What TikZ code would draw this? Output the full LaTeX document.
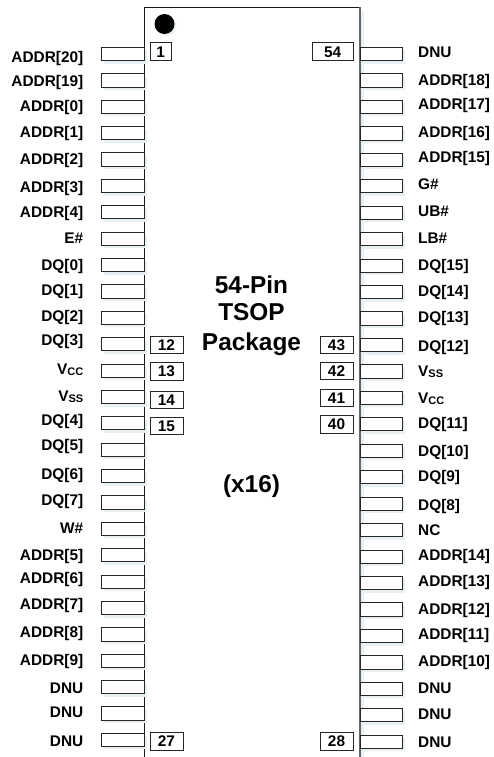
\documentclass[tikz,border=0pt]{standalone}
\usepackage{fontspec}
\setmainfont{Liberation Sans}
\definecolor{softshade}{HTML}{E9F0F4}
\newcommand{\subsc}[1]{\raisebox{-1.5pt}{\fontsize{11}{11}\selectfont #1}}
\tikzset{
  pinbox/.style={draw=black!85,line width=0.9pt,fill=white,minimum height=13.2pt,inner sep=0pt},
  leftpin/.style={pinbox,minimum width=43pt},
  rightpin/.style={pinbox,minimum width=42pt},
  pinshadow/.style={fill=softshade,draw=none,minimum height=13.2pt,inner sep=0pt},
  numbox/.style={draw=black!85,line width=0.9pt,fill=white,inner sep=0pt,minimum height=17.5pt,text height=10.7pt,text depth=0pt,font=\bfseries\fontsize{15.4}{15}\selectfont},
  narrownum/.style={numbox,minimum width=33pt},
  lab/.style={inner sep=0pt,text height=10.7pt,text depth=0pt,font=\bfseries\fontsize{15.4}{15}\selectfont},
  leftlab/.style={lab,anchor=east},
  rightlab/.style={lab,anchor=west},
  title/.style={inner sep=0pt,text height=17.2pt,text depth=0pt,font=\bfseries\fontsize{24.4}{24}\selectfont}
}
\begin{document}
\begin{tikzpicture}[x=1pt,y=-1pt]
\useasboundingbox (0,0) rectangle (494,757);
% package
\fill[softshade] (147,11) rectangle (364,757);
\fill[white] (144,7.5) rectangle (360,757);
\coordinate (pkgBL) at (144,757);
\coordinate (pkgTL) at (144,7.5);
\coordinate (pkgTR) at (360,7.5);
\coordinate (pkgBR) at (360,757);
\draw[black!90,line width=0.9pt] (pkgBL) -- (pkgTL) -- (pkgTR);
\draw[black!60,line width=1.2pt] (pkgTR) -- (pkgBR);
% index dot
\fill[softshade] (166.5,26) circle (10);
\node[circle,fill=black,minimum size=20pt,inner sep=0pt] (dot) at (164.5,24) {};
% left pins and labels
\foreach \i/\ly/\t in {
 1/57/{ADDR[20]},2/81/{ADDR[19]},3/106/{ADDR[0]},4/132/{ADDR[1]},5/159/{ADDR[2]},
 6/187/{ADDR[3]},7/212/{ADDR[4]},8/238/{E\#},9/265/{DQ[0]},10/290/{DQ[1]},
 11/316/{DQ[2]},12/340/{DQ[3]},13/369/{V\subsc{CC}},14/396/{V\subsc{SS}},15/420/{DQ[4]},
 16/445/{DQ[5]},17/474/{DQ[6]},18/500/{DQ[7]},19/528/{W\#},20/555/{ADDR[5]},
 21/578/{ADDR[6]},22/604/{ADDR[7]},23/632/{ADDR[8]},24/660/{ADDR[9]},25/688/{DNU},
 26/712/{DNU},27/741/{DNU}}{
  \pgfmathsetmacro{\py}{54+26.38*(\i-1)}
  \node[pinshadow,minimum width=43pt] at (125.5,\py+3) {};
  \node[leftpin] (L\i) at (122.5,\py) {};
  \node[leftlab] (LT\i) at (83.5,\ly) {\t};
}
% right pins and labels
\foreach \i/\ly/\t in {
 54/52/{DNU},53/80/{ADDR[18]},52/104/{ADDR[17]},51/132/{ADDR[16]},50/157/{ADDR[15]},
 49/184/{G\#},48/211/{UB\#},47/238/{LB\#},46/265/{DQ[15]},45/291/{DQ[14]},
 44/317/{DQ[13]},43/346/{DQ[12]},42/371/{V\subsc{SS}},41/398/{V\subsc{CC}},40/423/{DQ[11]},
 39/451/{DQ[10]},38/476/{DQ[9]},37/505/{DQ[8]},36/530/{NC},35/555/{ADDR[14]},
 34/581/{ADDR[13]},33/609/{ADDR[12]},32/634/{ADDR[11]},31/661/{ADDR[10]},30/688/{DNU},
 29/714/{DNU},28/742/{DNU}}{
  \pgfmathsetmacro{\py}{54+26.45*(54-\i)}
  \node[pinshadow,minimum width=42pt] at (384,\py+3) {};
  \node[rightpin] (R\i) at (381,\py) {};
  \node[rightlab] (RT\i) at (418,\ly) {\t};
}
% pin numbers
\node[numbox,minimum width=21.5pt] (n1) at (160.7,51.7) {1};
\node[numbox,minimum width=40.5pt] (n54) at (332.7,51.7) {54};
\node[narrownum] (n12) at (166.5,345) {12};
\node[narrownum] (n13) at (166.5,371.2) {13};
\node[narrownum] (n14) at (166.5,400) {14};
\node[narrownum] (n15) at (166.5,426) {15};
\node[narrownum] (n27) at (166.5,741.2) {27};
\node[narrownum] (n43) at (336.5,345) {43};
\node[narrownum] (n42) at (336.5,371) {42};
\node[narrownum] (n41) at (336.5,398) {41};
\node[narrownum] (n40) at (336.5,424.3) {40};
\node[narrownum] (n28) at (336.5,741.5) {28};
% title
\node[title] (t1) at (251.5,285) {54-Pin};
\node[title] (t2) at (251.5,312) {TSOP};
\node[title] (t3) at (251.5,342) {Package};
\node[title] (t4) at (251.5,484) {(x16)};
\end{tikzpicture}
\end{document}
